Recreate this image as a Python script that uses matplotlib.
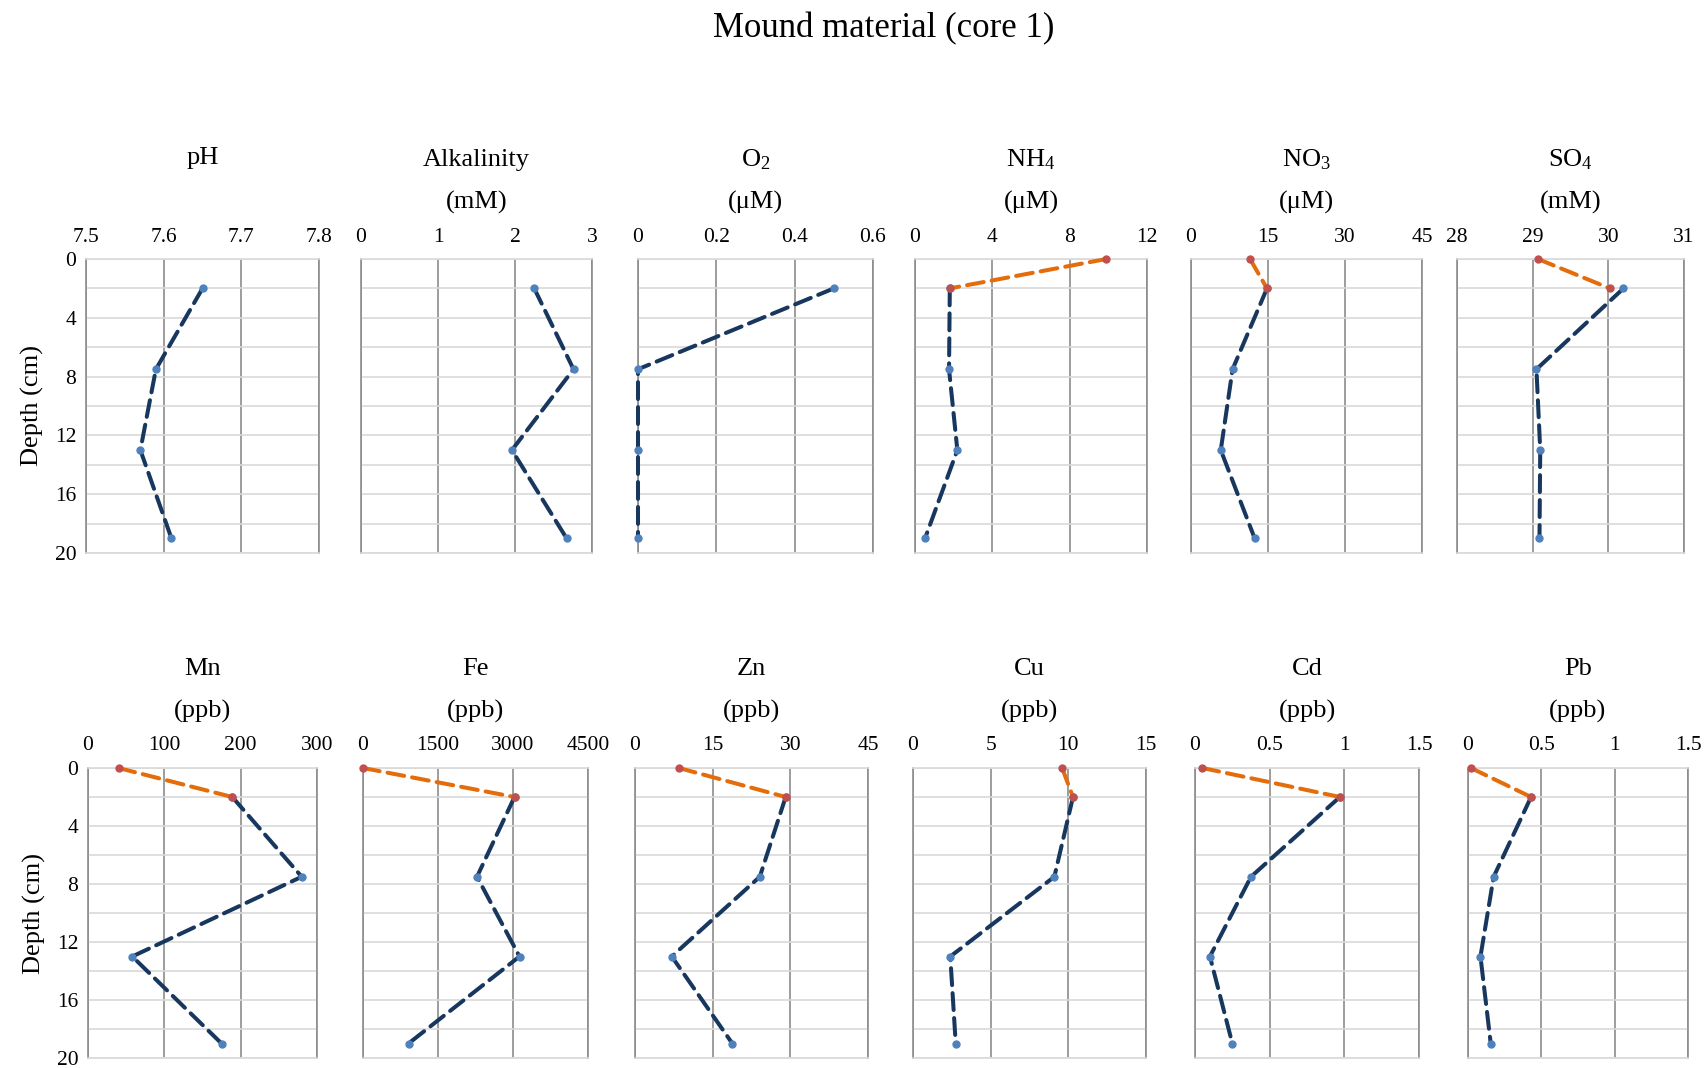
import matplotlib
matplotlib.use("Agg")
import matplotlib.pyplot as plt
import numpy as np

plt.rcParams["font.family"] = ["Liberation Serif", "DejaVu Serif"]
plt.rcParams["mathtext.fontset"] = "custom"
plt.rcParams["mathtext.rm"] = "Liberation Serif"
plt.rcParams["mathtext.it"] = "Liberation Serif"

# Data ---------

depth_surface = [0, 2]
depth_core = [2, 7.5, 13, 19]

ph_core = [7.65, 7.59, 7.57, 7.61]
alk_core = [2.25, 2.76, 1.96, 2.67]
o2_core = [0.50, 0.0, 0.0, 0.0]
nh4_surface = [9.9, 1.8]
nh4_core = [1.8, 1.76, 2.19, 0.52]
no3_surface = [11.5, 14.8]
no3_core = [14.8, 8.1, 5.8, 12.4]
so4_surface = [29.07, 30.02]
so4_core = [30.2, 29.05, 29.1, 29.09]

mn_surface = [40, 189]
mn_core = [189, 280, 58, 175]
fe_surface = [0, 3030]
fe_core = [3030, 2280, 3130, 910]
zn_surface = [8.5, 29.1]
zn_core = [29.1, 24.1, 7.1, 18.8]
cu_surface = [9.6, 10.3]
cu_core = [10.3, 9.1, 2.4, 2.75]
cd_surface = [0.05, 0.97]
cd_core = [0.97, 0.375, 0.10, 0.25]
pb_surface = [0.02, 0.43]
pb_core = [0.43, 0.175, 0.085, 0.155]

titles_top = ["pH", "Alkalinity", "O$_{2}$", "NH$_{4}$", "NO$_{3}$", "SO$_{4}$"]
units_top = ["", "(mM)", "(\u03bcM)", "(\u03bcM)", "(\u03bcM)", "(mM)"]
titles_bottom = ["Mn", "Fe", "Zn", "Cu", "Cd", "Pb"]
units_bottom = ["(ppb)"] * 6

xticks_top = [[7.5, 7.6, 7.7, 7.8], [0, 1, 2, 3], [0, 0.2, 0.4, 0.6],
              [0, 4, 8, 12], [0, 15, 30, 45], [28, 29, 30, 31]]
xticks_bottom = [[0, 100, 200, 300], [0, 1500, 3000, 4500], [0, 15, 30, 45],
                 [0, 5, 10, 15], [0, 0.5, 1, 1.5], [0, 0.5, 1, 1.5]]

surface_top = [None, None, None, nh4_surface, no3_surface, so4_surface]
core_top = [ph_core, alk_core, o2_core, nh4_core, no3_core, so4_core]
surface_bottom = [mn_surface, fe_surface, zn_surface, cu_surface, cd_surface, pb_surface]
core_bottom = [mn_core, fe_core, zn_core, cu_core, cd_core, pb_core]

# Layout (pixels) ---------
W, H = 1705, 1068
x_top = [(86, 319), (361, 592), (638, 873), (915, 1147), (1191, 1422), (1457, 1684)]
x_bottom = [(88, 317), (363, 588), (635, 868), (913, 1146), (1195, 1419), (1468, 1688)]
y_top = (259, 553)
y_bottom = (768, 1058)

blue_line = "#17375e"
blue_marker = "#4f81bd"
orange_line = "#e46c0a"
orange_marker = "#c0504d"


def fmt(v):
    return f"{v:g}"


def draw_panel(xr, yr, ticks, surface, core, title, unit, first):
    x0, x1 = xr
    y0, y1 = yr
    ax = fig.add_axes([x0 / W, 1 - y1 / H, (x1 - x0) / W, (y1 - y0) / H])
    ax.set_xlim(ticks[0], ticks[-1])
    ax.set_ylim(20, 0)
    ax.xaxis.tick_top()
    ax.set_xticks(ticks)
    ax.set_xticklabels([fmt(t) for t in ticks])
    ax.set_yticks(range(0, 21, 4))
    ax.set_yticks(range(0, 21, 2), minor=True)
    ax.tick_params(axis="x", length=0, pad=9, labelsize=15.5)
    ax.tick_params(axis="y", which="both", length=0, pad=7, labelsize=15.5)
    if not first:
        ax.set_yticklabels([])
    else:
        ax.set_ylabel("Depth (cm)", fontsize=19, labelpad=8)
    ax.grid(axis="x", color="#8c8c8c", lw=1.2)
    ax.grid(axis="y", which="both", color="#d9d9d9", lw=1.2)
    for side in ["left", "right"]:
        ax.spines[side].set_color("#8c8c8c")
        ax.spines[side].set_linewidth(1.2)
    for side in ["top", "bottom"]:
        ax.spines[side].set_color("#d9d9d9")
        ax.spines[side].set_linewidth(1.2)
    ax.set_axisbelow(True)

    ax.plot(core, depth_core, color=blue_line, lw=2.9, dashes=(4.2, 2.0),
            dash_capstyle="round", marker="o", ms=5, mfc=blue_marker,
            mec=blue_marker, zorder=3, clip_on=False)
    if surface is not None:
        ax.plot(surface, depth_surface, color=orange_line, lw=2.9, dashes=(4.2, 2.0),
                dash_capstyle="round", marker="o", ms=5, mfc=orange_marker,
                mec=orange_marker, zorder=4, clip_on=False)

    xc = (x0 + x1) / 2 / W
    if unit:
        fig.text(xc, 1 - (yr[0] - 99) / H, title, ha="center", va="center", fontsize=19)
        fig.text(xc, 1 - (yr[0] - 57) / H, unit, ha="center", va="center", fontsize=19)
    else:
        fig.text(xc, 1 - (yr[0] - 101) / H, title, ha="center", va="center", fontsize=19)
    return ax


fig = plt.figure(figsize=(W / 100, H / 100), dpi=100)
fig.patch.set_facecolor("white")

for i in range(6):
    draw_panel(x_top[i], y_top, xticks_top[i], surface_top[i], core_top[i],
               titles_top[i], units_top[i], i == 0)
    draw_panel(x_bottom[i], y_bottom, xticks_bottom[i], surface_bottom[i], core_bottom[i],
               titles_bottom[i], units_bottom[i], i == 0)

fig.text(884 / W, 1 - 29 / H, "Mound material (core 1)", ha="center", va="center", fontsize=25)

fig.savefig("out.png", dpi=100)
